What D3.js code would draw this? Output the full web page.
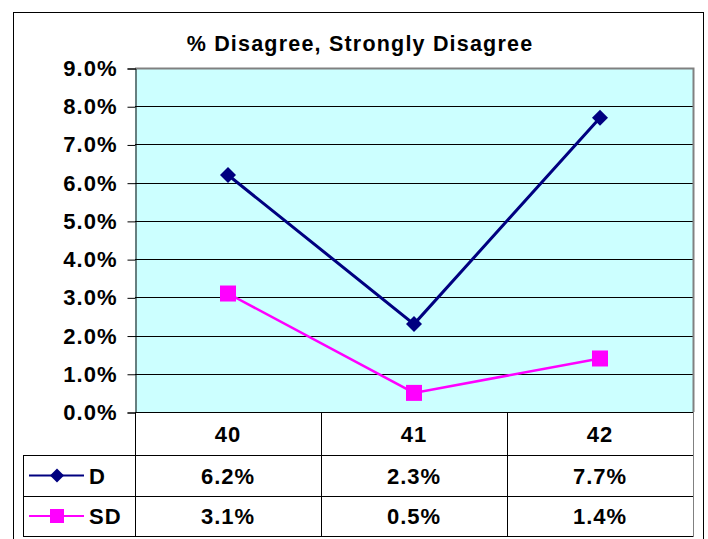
<!DOCTYPE html>
<html>
<head>
<meta charset="utf-8">
<script src="https://cdn.jsdelivr.net/npm/d3@7"></script>
<style>
body { margin: 0; background: #fff; }
text { font-family: "Liberation Sans", Arial, sans-serif; font-weight: bold; letter-spacing: 1px; }
</style>
</head>
<body>
<div id="chart"></div>
<script>
// chart values
var categories = ["40", "41", "42"];
var seriesNames = ["D", "SD"];
var dValues = [6.2, 2.3, 7.7];
var sdValues = [3.1, 0.5, 1.4];
var yTicks = [0, 1, 2, 3, 4, 5, 6, 7, 8, 9];

var width = 708, height = 539;
var plot = { left: 135, right: 693, top: 68, bottom: 412 };
var rowH = [43, 41, 40];
var fs = "22px";

var svg = d3.select("#chart").append("svg")
	.attr("width", width)
	.attr("height", height);

// outer frame
svg.append("rect")
	.attr("x", 13.5).attr("y", 12.5)
	.attr("width", 690).attr("height", 540)
	.attr("fill", "#fff").attr("stroke", "#000").attr("stroke-width", 1);

svg.append("text")
	.attr("x", 360).attr("y", 51)
	.attr("text-anchor", "middle")
	.attr("font-size", "21.5px")
	.style("letter-spacing", "1.2px")
	.text("% Disagree, Strongly Disagree");

var x = d3.scaleBand().domain(categories).range([plot.left, plot.right]);
var y = d3.scaleLinear().domain([0, 9]).range([plot.bottom, plot.top]);

// plot area
svg.append("rect")
	.attr("x", plot.left).attr("y", plot.top)
	.attr("width", plot.right - plot.left).attr("height", plot.bottom - plot.top)
	.attr("fill", "#ccffff");

// grid
svg.append("g").selectAll("line")
	.data(yTicks.filter(d => d > 0 && d < 9))
	.join("line")
	.attr("x1", plot.left).attr("x2", plot.right)
	.attr("y1", d => Math.round(y(d)) + 0.5).attr("y2", d => Math.round(y(d)) + 0.5)
	.attr("stroke", "#000");

// plot border top/right gray
svg.append("path")
	.attr("d", "M" + plot.left + "," + (plot.top + 0.5) + "H" + (plot.right + 0.5) + "V" + plot.bottom)
	.attr("fill", "none").attr("stroke", "#808080").attr("stroke-width", 2);

// y axis
var yAxis = d3.axisLeft(y).tickValues(yTicks).tickSize(8).tickPadding(10)
	.tickFormat(d => d.toFixed(1) + "%");
var ga = svg.append("g").attr("transform", "translate(" + (plot.left + 0.5) + ",0.5)").call(yAxis);
ga.selectAll("text").attr("font-size", fs).attr("fill", "#000")
	.attr("font-family", "Liberation Sans, Arial, sans-serif").attr("font-weight", "bold");
ga.selectAll("line,path").attr("stroke", "#000");

// data table
var t0 = plot.bottom;
var t1 = t0 + rowH[0], t2 = t1 + rowH[1], t3 = t2 + rowH[2];
var tableLeft = 23;
var tg = svg.append("g").attr("stroke", "#000").attr("stroke-width", 1);
[t0, t1, t2, t3].forEach(function(yy, i) {
	tg.append("line")
		.attr("x1", i === 0 ? plot.left : tableLeft).attr("x2", plot.right)
		.attr("y1", yy + 0.5).attr("y2", yy + 0.5);
});
tg.append("line").attr("x1", tableLeft + 0.5).attr("x2", tableLeft + 0.5).attr("y1", t1).attr("y2", t3 + 1);
categories.concat(["end"]).forEach(function(c, i) {
	var xx = plot.left + i * x.bandwidth();
	tg.append("line")
		.attr("x1", Math.round(xx) + 0.5).attr("x2", Math.round(xx) + 0.5)
		.attr("y1", t0).attr("y2", t3 + 1)
		.attr("stroke", i === 3 ? "#808080" : "#000");
});

svg.append("g").selectAll("text")
	.data(categories)
	.join("text")
	.attr("x", d => x(d) + x.bandwidth() / 2)
	.attr("y", t0 + rowH[0] / 2 + 8)
	.attr("text-anchor", "middle").attr("font-size", fs)
	.text(d => d);

var series = [
	{ name: seriesNames[0], values: dValues, color: "#000080", marker: "diamond", width: 3 },
	{ name: seriesNames[1], values: sdValues, color: "#ff00ff", marker: "square", width: 2.5 }
];
var rowTops = [t1, t2];

series.forEach(function(s, si) {
	var mid = rowTops[si] + rowH[si + 1] / 2;
	svg.append("g").selectAll("text")
		.data(s.values)
		.join("text")
		.attr("x", (d, i) => x(categories[i]) + x.bandwidth() / 2)
		.attr("y", mid + 8)
		.attr("text-anchor", "middle").attr("font-size", fs)
		.text(d => d.toFixed(1) + "%");
	// legend key
	svg.append("line")
		.attr("x1", 29).attr("x2", 84).attr("y1", mid).attr("y2", mid)
		.attr("stroke", s.color).attr("stroke-width", 2);
	drawMarker(svg, s, 57, mid, 7);
	svg.append("text").attr("x", 89).attr("y", mid + 8).attr("font-size", fs).text(s.name);

	// line
	var line = d3.line().x((d, i) => x(categories[i]) + x.bandwidth() / 2).y(d => y(d));
	svg.append("path").datum(s.values)
		.attr("d", line).attr("fill", "none")
		.attr("stroke", s.color).attr("stroke-width", s.width);
	s.values.forEach(function(v, i) {
		drawMarker(svg, s, x(categories[i]) + x.bandwidth() / 2, y(v), 8);
	});
});

function drawMarker(g, s, cx, cy, r) {
	if (s.marker === "diamond") {
		g.append("path")
			.attr("d", "M" + cx + "," + (cy - r) + "L" + (cx + r) + "," + cy + "L" + cx + "," + (cy + r) + "L" + (cx - r) + "," + cy + "Z")
			.attr("fill", s.color);
	} else {
		g.append("rect")
			.attr("x", cx - r).attr("y", cy - r).attr("width", 2 * r).attr("height", 2 * r)
			.attr("fill", s.color);
	}
}
</script>
</body>
</html>
